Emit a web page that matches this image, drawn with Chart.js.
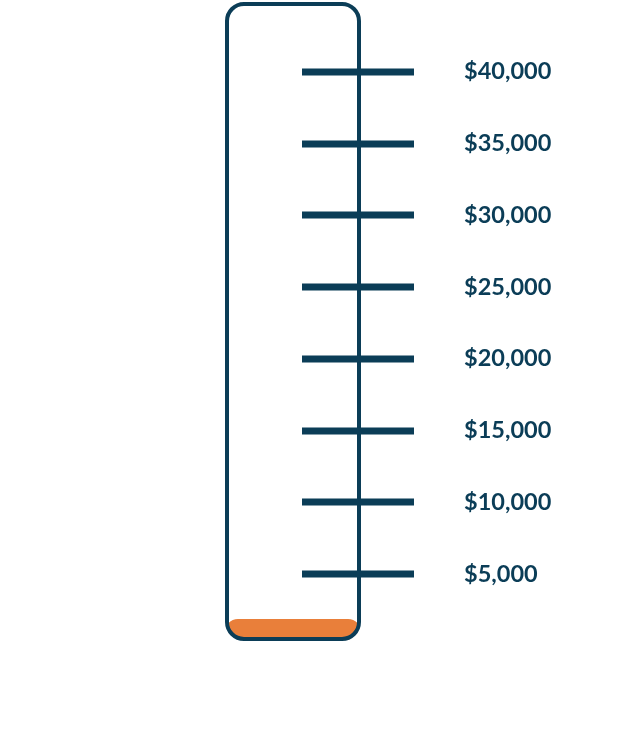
<!DOCTYPE html>
<html>
<head>
<meta charset="utf-8">
<script src="https://cdn.jsdelivr.net/npm/chart.js@4.4.1/dist/chart.umd.min.js"></script>
<style>
  html, body { margin: 0; padding: 0; background: #fff; }
  #wrap { width: 642px; height: 741px; }
</style>
</head>
<body>
<div id="wrap"><canvas id="thermo"></canvas></div>
<script>
const categories = ['Raised'];
const raised = [1850];
const tickValues = [5000, 10000, 15000, 20000, 25000, 30000, 35000, 40000];
const goalMax = 45000;

const navy = '#0b3d57';
const orange = '#e97f3a';

// rounded tube path, built from the chart area
function tubePath(ctx, area) {
  const x = area.left + 2, w = area.right - area.left - 4;
  const y = area.top + 4, h = 639 - y;
  ctx.beginPath();
  ctx.roundRect(x, y, w, h, 17);
}

const tubePlugin = {
  id: 'tube',
  beforeDatasetsDraw(chart) {
    const ctx = chart.ctx;
    ctx.save();
    tubePath(ctx, chart.chartArea);
    ctx.clip();
  },
  afterDatasetsDraw(chart) {
    chart.ctx.restore();
  },
  afterDraw(chart) {
    const ctx = chart.ctx;
    const y = chart.scales.y;
    ctx.save();
    ctx.strokeStyle = navy;
    ctx.lineWidth = 4;
    tubePath(ctx, chart.chartArea);
    ctx.stroke();
    // tick bars across the right wall
    ctx.lineWidth = 7;
    ctx.lineCap = 'butt';
    y.ticks.forEach(t => {
      const py = Math.round(y.getPixelForValue(t.value));
      ctx.beginPath();
      ctx.moveTo(302, py);
      ctx.lineTo(414, py);
      ctx.stroke();
    });
    ctx.restore();
  }
};

new Chart(document.getElementById('thermo'), {
  type: 'bar',
  data: {
    labels: categories,
    datasets: [{
      data: raised,
      backgroundColor: orange,
      borderWidth: 0,
      borderSkipped: 'bottom',
      borderRadius: { topLeft: 16, topRight: 16 },
      barPercentage: 1,
      categoryPercentage: 1
    }]
  },
  options: {
    responsive: true,
    maintainAspectRatio: false,
    animation: false,
    layout: { padding: { left: 225, right: 0, top: 0, bottom: 95 } },
    plugins: {
      legend: { display: false },
      tooltip: { enabled: false }
    },
    scales: {
      x: { display: false },
      y: {
        position: 'right',
        min: 0,
        max: goalMax,
        afterFit: s => {
          s.width = 281;
          // big label offset should not pad the top/bottom
          s.paddingTop = 0;
          s.paddingBottom = 0;
        },
        afterBuildTicks: s => { s.ticks = tickValues.map(v => ({ value: v })); },
        grid: { display: false, drawTicks: false },
        border: { display: false },
        ticks: {
          padding: 103,
          color: navy,
          font: { family: 'Lato', weight: 'bold', size: 23.5 },
          callback: v => '$' + v.toLocaleString('en-US')
        }
      }
    }
  },
  plugins: [tubePlugin]
});
</script>
</body>
</html>
